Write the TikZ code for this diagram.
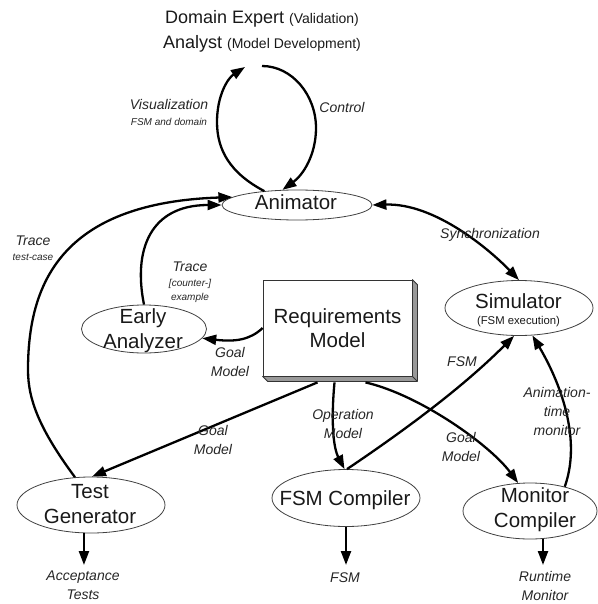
\documentclass[tikz,border=0pt]{standalone}
\usepackage{fontspec}
\setmainfont{Liberation Sans}
\usetikzlibrary{shapes.geometric,arrows.meta}
\begin{document}
\begin{tikzpicture}[x=1pt,y=-1pt,
  ell/.style={ellipse, draw=black!75, line width=0.8pt, inner sep=0pt},
  big/.style={font=\fontsize{20.5}{24}\selectfont, text=black!90, inner sep=0pt, anchor=base},
  ttl/.style={text=black!90, inner sep=0pt, anchor=base},
  lab/.style={font=\fontsize{14}{19}\selectfont\itshape, text=black!85, inner sep=0pt, align=center},
  labb/.style={font=\fontsize{14}{19}\selectfont\itshape, text=black!85, inner sep=0pt, anchor=base},
  sml/.style={font=\fontsize{10}{12}\selectfont\itshape, text=black!85, inner sep=0pt, anchor=base},
  arr/.style={line width=2.3pt, -{Triangle[length=14pt,width=10pt]}},
  dbl/.style={line width=2.3pt, {Triangle[length=14pt,width=10pt]}-{Triangle[length=14pt,width=10pt]}}
]
\useasboundingbox (0,0) rectangle (597,604);

% title
\node[ttl] (t1) at (262,23.4) {\fontsize{18}{22}\selectfont Domain Expert \fontsize{14}{22}\selectfont(Validation)};
\node[ttl] (t2) at (262,48.4) {\fontsize{18}{22}\selectfont Analyst \fontsize{14}{22}\selectfont(Model Development)};
\coordinate (loopL) at (245,67);
\coordinate (loopR) at (262,66);

% ellipses
\node[ell, minimum width=150pt, minimum height=30pt] (ani) at (297,205) {};
\node[ell, minimum width=125pt, minimum height=48pt] (ea) at (144,329) {};
\node[ell, minimum width=148pt, minimum height=55pt] (sim) at (519,308) {};
\node[ell, minimum width=148pt, minimum height=56pt] (tg) at (91,505) {};
\node[ell, minimum width=148pt, minimum height=57pt] (fsm) at (346,498) {};
\node[ell, minimum width=134pt, minimum height=56pt] (mc) at (530,511) {};

% requirements box
\node[draw=black!80, line width=0.8pt, fill=white, minimum width=149pt, minimum height=96pt, inner sep=0pt] (req) at (337.5,328) {};
\filldraw[fill=black!40, draw=black!80, line width=0.8pt, line join=round]
  (req.north east) -- ++(5,5) -- ([xshift=5pt,yshift=-5pt]req.south east)
  -- ([xshift=5pt,yshift=-5pt]req.south west) -- (req.south west) -- (req.south east) -- cycle;
\draw[black!80, line width=0.8pt] (req.south east) -- ([xshift=5pt,yshift=-5pt]req.south east);

% node texts
\node[big] (aniT) at (296,209.8) {Animator};
\node[big] (eaT1) at (143,323) {Early};
\node[big] (eaT2) at (143,348) {Analyzer};
\node[big] (reqT1) at (337.5,323) {Requirements};
\node[big] (reqT2) at (337.5,347) {Model};
\node[big] (simT1) at (518.5,308) {Simulator};
\node[inner sep=0pt, anchor=base, text=black!90, font=\fontsize{11.3}{13}\selectfont] (simT2) at (518.5,324) {(FSM execution)};
\node[big] (tgT1) at (90,498.5) {Test};
\node[big] (tgT2) at (90,523) {Generator};
\node[big] (fsmT) at (345,505) {FSM Compiler};
\node[big] (mcT1) at (535,502.5) {Monitor};
\node[big] (mcT2) at (535,527.5) {Compiler};

% top loop
\draw[arr] (ani.157) .. controls (230,173) and (217,150) .. (217,122)
  .. controls (217,95) and (228,78) .. (loopL);
\draw[arr] (loopR) .. controls (292,66) and (316,95) .. (316,128)
  .. controls (316,155) and (303,175) .. (ani.134);

% traces to animator
\draw[arr] (tg.120) .. controls (40,430) and (28,400) .. (28,370)
  .. controls (28,285) and (60,203) .. (ani.173);
\draw[arr] (ea.north) .. controls (133,250) and (150,205) .. (ani.west);

% requirements to analyzer
\draw[arr] (req.west) .. controls (250,340) and (235,342) .. (ea.351);

% synchronization
\draw[dbl] (ani.east) .. controls (435,203) and (490,250) .. (sim.north);

% to simulator
\draw[arr] (fsm.88) .. controls (420,420) and (470,380) .. (sim.260);
\draw[arr] (mc.35) .. controls (585,430) and (550,365) .. (sim.296);

% requirements to tools
\draw[arr] ([xshift=-20pt,yshift=-6pt]req.south) -- (tg.88);
\draw[arr] ([xshift=-3pt,yshift=-6pt]req.south) .. controls (331,420) and (333,447) .. (fsm.93);
\draw[arr] ([xshift=28pt,yshift=-6pt]req.south) .. controls (420,395) and (490,445) .. (mc.113);

% outputs
\coordinate (accTip) at (84,565);
\coordinate (fsmTip) at (346,565);
\coordinate (rtmTip) at (543,565);
\draw[arr] (tg.256) -- (tg.256 |- accTip);
\draw[arr] (fsm.south) -- (fsm.south |- fsmTip);
\draw[arr] (mc.295) -- (mc.295 |- rtmTip);

% labels
\node[labb] (vis) at (169,110) {Visualization};
\node[sml] (visS) at (169,125.6) {FSM and domain};
\node[labb] (ctl) at (342,113) {Control};
\node[labb] (tr1) at (33,245) {Trace};
\node[sml] (tr1s) at (33,260.6) {test-case};
\node[labb] (tr2) at (190,271) {Trace};
\node[sml] (tr2a) at (190,286.6) {[counter-]};
\node[sml] (tr2b) at (190,300.6) {example};
\node[lab] (gm1) at (230,361.5) {Goal\\Model};
\node[labb] (sync) at (490,238) {Synchronization};
\node[lab] (fsmL) at (462,362) {FSM};
\node[lab] (atm) at (557,411) {Animation-\\time\\monitor};
\node[lab] (gm2) at (213,439.5) {Goal\\Model};
\node[lab] (opm) at (343,424) {Operation\\Model};
\node[lab] (gm3) at (461,447) {Goal\\Model};
\node[lab] (acc) at (83,585.5) {Acceptance\\Tests};
\node[lab] (fsmO) at (345,578) {FSM};
\node[lab] (rtm) at (545,585.5) {Runtime\\Monitor};
\end{tikzpicture}
\end{document}
